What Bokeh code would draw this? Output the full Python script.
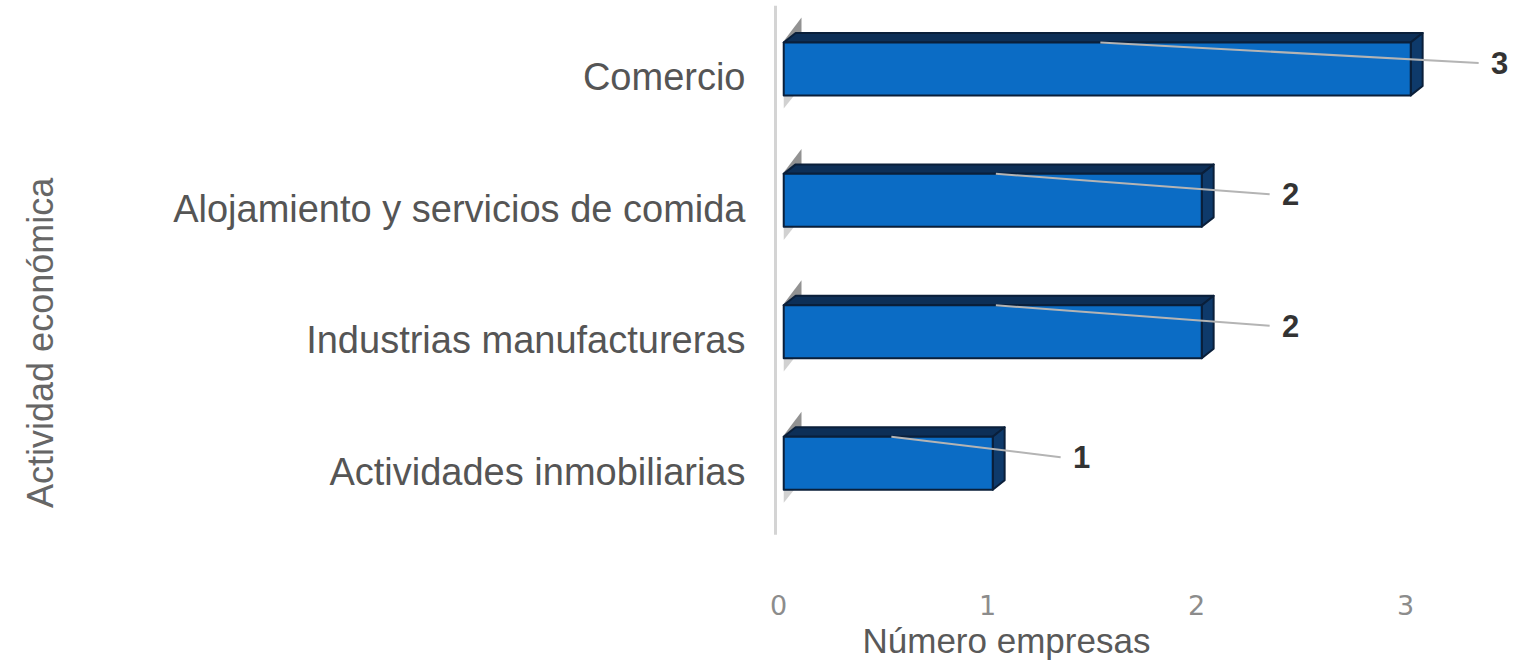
import math
from bokeh.plotting import figure
from bokeh.models import ColumnDataSource, FixedTicker, Range1d, Title
from bokeh.core.properties import value
from bokeh.embed import file_html
from bokeh.resources import INLINE

# ---- data ----
categories = ["Actividades inmobiliarias", "Industrias manufactureras",
              "Alojamiento y servicios de comida", "Comercio"]
counts = [1, 2, 2, 3]
x_ticks = [0, 1, 2, 3]
x_title = "Número empresas"
y_title = "Actividad económica"

# ---- style constants (data units) ----
OX = 0.025     # front face x shift
DX = 0.057     # 3D depth x
DY = 0.072     # 3D depth y
FTOP = 0.266   # front face top relative to category center
FBOT = -0.137  # front face bottom
PXU = 209.0    # pixels per x unit
ZERO_PX = 778  # pixel position of x=0

idx = list(range(len(categories)))

W, H = 1517, 660
p = figure(width=W, height=H, output_backend="svg", toolbar_location=None,
           x_range=Range1d(-ZERO_PX / PXU, (W - ZERO_PX) / PXU), y_range=Range1d(-0.516, 3.547),
           min_border_left=0, min_border_right=0, min_border_top=5, min_border_bottom=120)
p.outline_line_color = None
p.xgrid.grid_line_color = None
p.ygrid.grid_line_color = None
p.background_fill_color = "white"
p.yaxis.visible = False

# wall line
p.segment(x0=[-3 / PXU], y0=[-0.48], x1=[-3 / PXU], y1=[3.547], line_color="#d4d4d4", line_width=3)

# wall shadows
sh_xs, sh_ys, sb_xs, sb_ys = [], [], [], []
for i in idx:
    t = i + FTOP
    b = i + FBOT
    sh_xs.append([OX - 0.005, OX + 0.085, OX + 0.085])
    sh_ys.append([t, t + 0.19, t])
    sb_xs.append([OX, OX + 0.05, OX])
    sb_ys.append([b, b, b - 0.1])
p.patches(sh_xs, sh_ys, fill_color="#6e6e6e", fill_alpha=0.75, line_color=None)
p.patches(sb_xs, sb_ys, fill_color="#9a9a9a", fill_alpha=0.45, line_color=None)

# bars: top face, side face, front face
top_xs, top_ys, side_xs, side_ys, fr_xs, fr_ys = [], [], [], [], [], []
for i, v in zip(idx, counts):
    t = i + FTOP
    b = i + FBOT
    x0 = OX
    x1 = v + OX
    top_xs.append([x0, x1, x1 + DX, x0 + DX])
    top_ys.append([t, t, t + DY, t + DY])
    side_xs.append([x1, x1 + DX, x1 + DX, x1])
    side_ys.append([b, b + DY, t + DY, t])
    fr_xs.append([x0, x1, x1, x0])
    fr_ys.append([b, b, t, t])
p.patches(top_xs, top_ys, fill_color="#0d2f57", line_color="#0a1f3a", line_width=2, line_join="round")
p.patches(side_xs, side_ys, fill_color="#0e3a6b", line_color="#0a1f3a", line_width=2, line_join="round")
p.patches(fr_xs, fr_ys, fill_color="#0b6cc5", line_color="#0a1f3a", line_width=2, line_join="round")

# leader lines and data labels
LX = 0.45
LY = 0.11
ld_xs, ld_ys = [], []
for i, v in zip(idx, counts):
    ld_xs.append([v / 2 + 0.04, v + LX - 0.1])
    ld_ys.append([i + FTOP, i + LY])
p.multi_line(ld_xs, ld_ys, line_color="#b4b4b4", line_width=2)

src = ColumnDataSource(dict(x=[v + LX for v in counts], y=[i + LY for i in idx],
                            t=[str(v) for v in counts]))
p.text(x="x", y="y", text="t", source=src, text_font=value("Liberation Sans"),
       text_font_size="31px", text_font_style="bold", text_color="#333333",
       text_align="center", text_baseline="middle")

# category labels
cat_src = ColumnDataSource(dict(x=[-33 / PXU] * len(idx), y=idx, t=categories))
p.text(x="x", y="y", text="t", source=cat_src, text_font=value("Liberation Sans"),
       text_font_size="38px", text_color="#555555",
       text_align="right", text_baseline="middle")

# y axis title
p.text(x=[(40 - ZERO_PX) / PXU], y=[0.98], text=[y_title], angle=math.pi / 2,
       text_font=value("Liberation Sans"), text_font_size="36px", text_color="#666666",
       text_align="center", text_baseline="middle")

# x axis
xa = p.xaxis[0]
xa.ticker = FixedTicker(ticks=x_ticks)
xa.axis_line_color = None
xa.major_tick_line_color = None
xa.minor_tick_line_color = None
xa.major_label_standoff = 49
xa.major_label_text_font = "DejaVu Sans"
xa.major_label_text_font_size = "27px"
xa.major_label_text_color = "#8c8c8c"

p.add_layout(Title(text=x_title, align="left", offset=862, standoff=2,
                   text_font="Liberation Sans", text_font_size="35px",
                   text_font_style="normal", text_color="#595959"), "below")

open("out.html", "w").write(file_html(p, INLINE))
